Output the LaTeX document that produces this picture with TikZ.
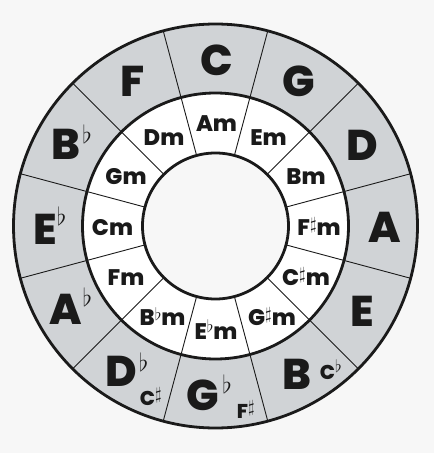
\documentclass[tikz,border=0pt]{standalone}
\usepackage{fontspec}
\setmainfont{Poppins}[BoldFont={* ExtraBold}]
\definecolor{bg}{RGB}{247,247,247}
\definecolor{ringgray}{RGB}{208,211,214}
\definecolor{ink}{RGB}{26,26,26}
% lapped accidentals for the big keys: gap, raise, size
\newcommand\kfl[3]{\rlap{\hspace{#1}\smash{\raisebox{#2}{\fontsize{#3}{#3}\selectfont$\flat$}}}}
\newcommand\ksh[3]{\rlap{\hspace{#1}\smash{\raisebox{#2}{\fontsize{#3}{#3}\selectfont$\sharp$}}}}
% inline accidentals for the minor keys
\newcommand\ifl[3]{\hspace{#1}\smash{\raisebox{#2}{\fontsize{#3}{#3}\selectfont$\flat$}}\hspace{#1}}
\newcommand\ish[3]{\hspace{#1}\smash{\raisebox{#2}{\fontsize{#3}{#3}\selectfont$\sharp$}}\hspace{#1}}
\begin{document}
\begin{tikzpicture}[x=1pt,y=1pt,
  major/.style={font=\fontsize{43}{43}\selectfont\bfseries, inner sep=0pt, text=ink},
  minor/.style={font=\fontsize{22.5}{22.5}\selectfont\bfseries, inner sep=0pt, text=ink},
  enh/.style={font=\fontsize{20}{20}\selectfont\bfseries, inner sep=0pt, text=ink},
  thickring/.style={draw=ink, line width=2.8pt},
  divider/.style={draw=ink, line width=0.9pt}]
\useasboundingbox (-215.5,-227) rectangle (218.5,226);
\fill[bg] (-215.5,-227) rectangle (218.5,226);
\fill[ringgray] (0,0) circle[radius=202];
\fill[white] (0,0) circle[radius=133];
\fill[bg] (0,0) circle[radius=73];
\foreach \a in {15,45,...,345} \draw[divider] (\a:73) -- (\a:202);
\draw[thickring] (0,0) circle[radius=202];
\draw[thickring] (0,0) circle[radius=133];
\draw[thickring] (0,0) circle[radius=73];
% major keys
\node[major] (kC)  at (1,165.5)      {C};
\node[major] (kG)  at (83.5,144.5)   {G};
\node[major] (kD)  at (147,81)       {D};
\node[major] (kA)  at (169.5,-1.5)   {A};
\node[major] (kE)  at (146.5,-85)    {E};
\node[major] (kB)  at (81,-148)      {B};
\node[enh]   (kCb) at (112,-146.5)   {C\kfl{0pt}{7pt}{18}};
\node[major] (kGb) at (-12.5,-169)   {G\kfl{3pt}{17pt}{31}};
\node[enh]   (kFs) at (27,-185.5)    {F\ksh{0pt}{6.5pt}{16}};
\node[major] (kDb) at (-94.5,-145.5) {D\kfl{2pt}{15pt}{31}};
\node[enh]   (kCs) at (-68,-172.5)   {C\ksh{0pt}{6.5pt}{16}};
\node[major] (kAb) at (-149.5,-83)   {A\kfl{0.5pt}{18pt}{31}};
\node[major] (kEb) at (-170.5,-3.5)  {E\kfl{0pt}{19pt}{31}};
\node[major] (kBb) at (-149.5,82)    {B\kfl{2pt}{16pt}{31}};
\node[major] (kF)  at (-82.5,144.5)  {F};
% minor keys
\node[minor] (mA)  at (1,102)     {Am};
\node[minor] (mE)  at (53,88)     {Em};
\node[minor] (mB)  at (90.5,49)   {Bm};
\node[minor] (mFs) at (103.5,-2)  {F\ish{0pt}{6pt}{17}m};
\node[minor] (mCs) at (90.5,-52)  {C\ish{0pt}{6pt}{17}m};
\node[minor] (mGs) at (56.5,-92)  {G\ish{0pt}{6pt}{17}m};
\node[minor] (mEb) at (0.5,-106)  {E\ifl{0pt}{7pt}{17}m};
\node[minor] (mBb) at (-53,-92)   {B\ifl{0pt}{5pt}{18}m};
\node[minor] (mF)  at (-89.5,-52) {Fm};
\node[minor] (mC)  at (-103,-2)   {Cm};
\node[minor] (mG)  at (-89.5,49)  {Gm};
\node[minor] (mD)  at (-51.5,88)  {Dm};
\end{tikzpicture}
\end{document}
